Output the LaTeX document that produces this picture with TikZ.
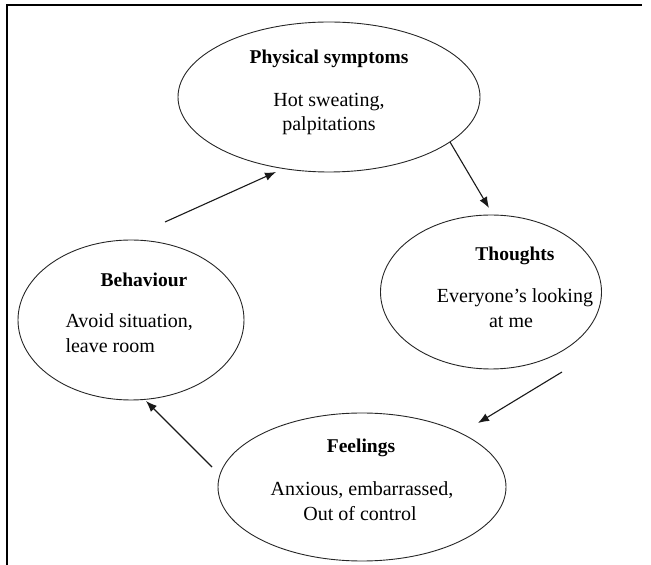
\documentclass[tikz,border=0pt]{standalone}
\usepackage{fontspec}
\setmainfont{Liberation Serif}
\usetikzlibrary{shapes.geometric,arrows.meta}
\begin{document}
\begin{tikzpicture}[x=1pt,y=1pt,
  oval/.style={draw=black!85,line width=0.9pt,ellipse,inner sep=0pt},
  ttl/.style={anchor=base,font=\fontsize{19.5}{23}\selectfont\bfseries},
  txt/.style={anchor=base,font=\fontsize{20}{24}\selectfont},
  arr/.style={draw=black!90,line width=1.1pt,-{Latex[length=11pt,width=8.5pt]}}]
\useasboundingbox (0,0) rectangle (651,565);
\draw[line width=1.5pt] (7,0) -- (7,560) -- (642,560);
% ellipses
\node[oval,minimum width=302pt,minimum height=150pt] (phys) at (329,468) {};
\node[oval,minimum width=221pt,minimum height=154pt] (thou) at (491,273) {};
\node[oval,minimum width=226pt,minimum height=160pt] (beh) at (131,245) {};
\node[oval,minimum width=288pt,minimum height=148pt] (feel) at (362,78) {};
% texts
\node[ttl] (physT) at (329,501) {Physical symptoms};
\node[txt] (physA) at (329,458) {Hot sweating,};
\node[txt] (physB) at (329,434) {palpitations};
\node[ttl] (thouT) at (515,304) {Thoughts};
\node[txt] (thouA) at (515,262) {Everyone’s looking};
\node[txt] (thouB) at (511,237) {at me};
\node[ttl] (behT) at (144,278) {Behaviour};
\node[txt,anchor=base west] (behA) at (62,237) {Avoid situation,};
\node[txt,anchor=base west] (behB) at (62,212) {leave room};
\node[ttl] (feelT) at (361,112) {Feelings};
\node[txt] (feelA) at (362,69) {Anxious, embarrassed,};
\node[txt] (feelB) at (360,44) {Out of control};
% arrows
\draw[arr] ([xshift=34pt,yshift=98pt]beh.center) -- ([xshift=-53pt,yshift=-75pt]phys.center);
\draw[arr] ([xshift=121pt,yshift=-45pt]phys.center) -- ([xshift=-2pt,yshift=84pt]thou.center);
\draw[arr] ([xshift=71pt,yshift=-80pt]thou.center) -- ([xshift=116pt,yshift=64pt]feel.center);
\draw[arr] ([xshift=-150pt,yshift=20pt]feel.center) -- ([xshift=15pt,yshift=-81pt]beh.center);
\end{tikzpicture}
\end{document}
